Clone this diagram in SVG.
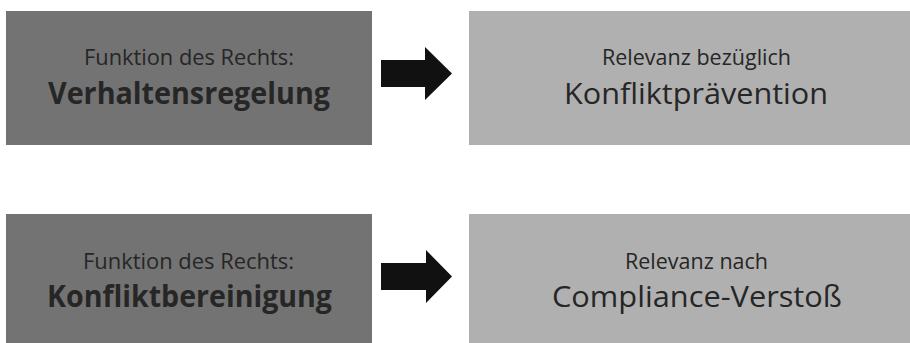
<svg xmlns="http://www.w3.org/2000/svg" width="910" height="343" viewBox="0 0 910 343">
<style>
.dark{fill:#737373}
.light{fill:#b0b0b0}
.t{font-family:"Open Sans","Liberation Sans",sans-serif;fill:#262626;text-anchor:middle}
.s{font-size:21px}
.b{font-size:30px;font-weight:bold}
.r{font-size:30px}
.arrow{fill:#111111}
</style>
<rect width="910" height="343" fill="#ffffff"/>
<g id="node-verhaltensregelung">
<rect class="dark" x="6" y="11" width="366" height="134"/>
<text class="t s" x="189" y="65" textLength="210" lengthAdjust="spacingAndGlyphs">Funktion des Rechts:</text>
<text class="t b" x="189" y="104" textLength="282" lengthAdjust="spacingAndGlyphs">Verhaltensregelung</text>
</g>
<g id="node-konfliktpraevention">
<rect class="light" x="469" y="11" width="441" height="134"/>
<text class="t s" x="696.5" y="65" textLength="189" lengthAdjust="spacingAndGlyphs">Relevanz bezüglich</text>
<text class="t r" x="696" y="104" textLength="264" lengthAdjust="spacingAndGlyphs">Konfliktprävention</text>
</g>
<g id="node-konfliktbereinigung">
<rect class="dark" x="6" y="214" width="366" height="129"/>
<text class="t s" x="188.5" y="269" textLength="211" lengthAdjust="spacingAndGlyphs">Funktion des Rechts:</text>
<text class="t b" x="189.5" y="307" textLength="285" lengthAdjust="spacingAndGlyphs">Konfliktbereinigung</text>
</g>
<g id="node-compliance-verstoss">
<rect class="light" x="469" y="214" width="441" height="129"/>
<text class="t s" x="696.5" y="269" textLength="143" lengthAdjust="spacingAndGlyphs">Relevanz nach</text>
<text class="t r" x="697" y="307" textLength="290" lengthAdjust="spacingAndGlyphs">Compliance-Verstoß</text>
</g>
<g id="connectors">
<polygon class="arrow" points="381,60 425,60 425,47 452,73.5 425,100 425,87 381,87"/>
<polygon class="arrow" points="381,263 426,263 426,250 452,276.5 426,303 426,290 381,290"/>
</g>
</svg>
